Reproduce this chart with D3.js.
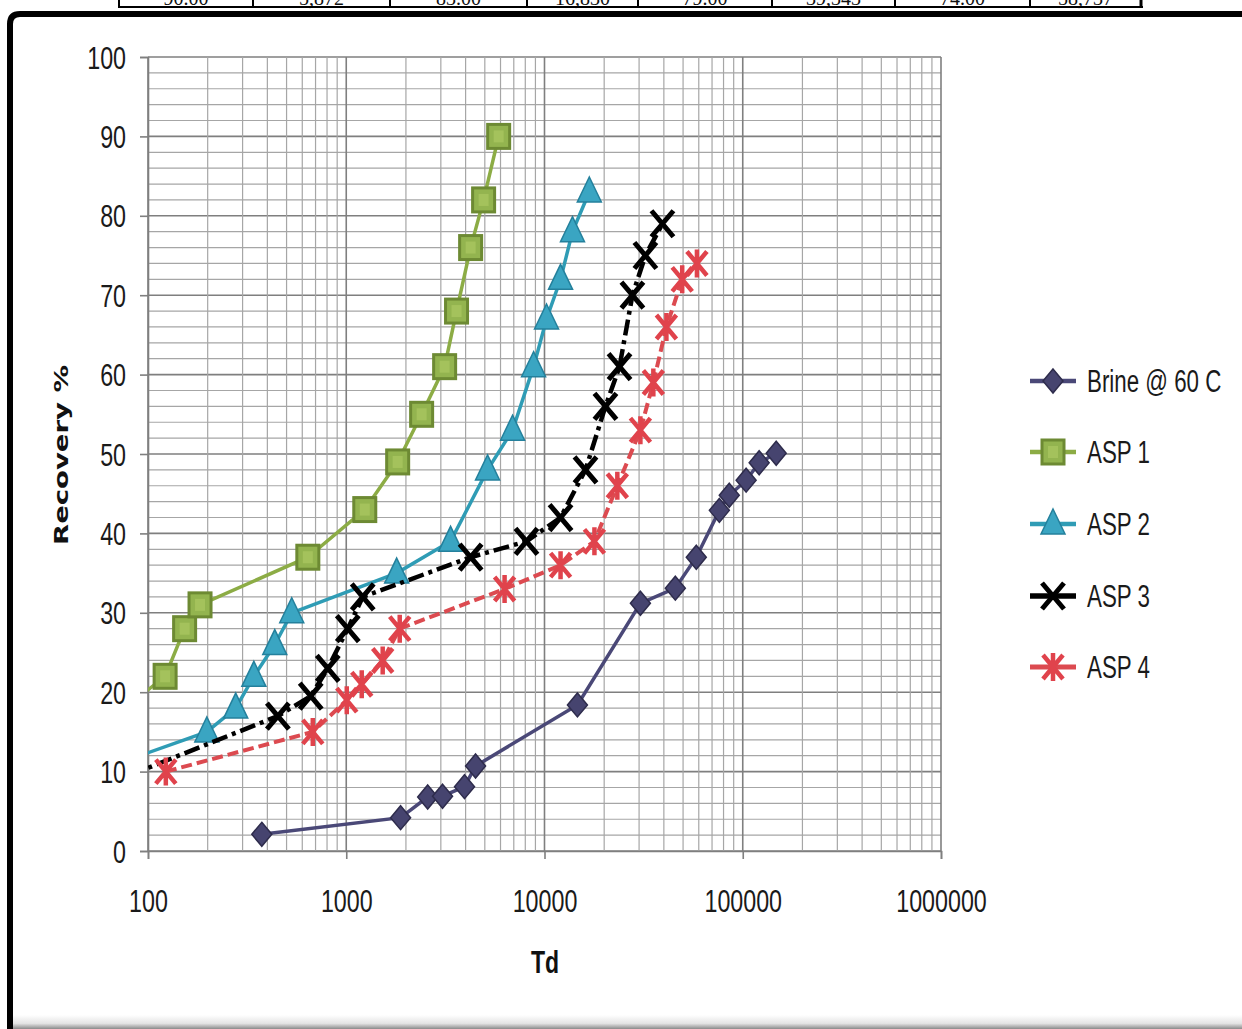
<!DOCTYPE html>
<html>
<head>
<meta charset="utf-8">
<script src="https://cdn.jsdelivr.net/npm/d3@7"></script>
<style>
  body { margin: 0; background: #fff; }
  svg { display: block; }
</style>
</head>
<body>
<div id="chart"></div>
<script>
// table row cut off at the top of the page
var tableCells = ["90.00", "5,872", "83.00", "16,830", "79.00", "39,343", "74.00", "58,737"];

// series (Td, Recovery %)
var seriesNames = ["Brine @ 60 C", "ASP 1", "ASP 2", "ASP 3", "ASP 4"];

var brineTd  = [375, 1880, 2575, 3060, 3950, 4490, 14660, 30460, 45700, 58300, 76200, 85500, 104000, 121000, 147500];
var brineRec = [2.1, 4.2, 6.8, 6.9, 8.1, 10.7, 18.4, 31.2, 33.1, 37.0, 42.9, 44.8, 46.7, 48.9, 50.1];

var asp1Td  = [86, 122, 153, 183, 640, 1240, 1817, 2400, 3135, 3600, 4240, 4930, 5872];
var asp1Rec = [19, 22, 28, 31, 37, 43, 49, 55, 61, 68, 76, 82, 90];

var asp2Td  = [70, 198, 277, 342, 436, 531, 1796, 3360, 5160, 6900, 8810, 10240, 12050, 13840, 16830];
var asp2Rec = [11, 15, 18, 22, 26, 30, 35, 39, 48, 53, 61, 67, 72, 78, 83];

var asp3Td  = [80, 452, 662, 807, 1018, 1211, 4240, 8110, 12050, 16100, 20300, 23900, 27760, 32280, 39343];
var asp3Rec = [9.5, 17, 19.5, 23, 28, 32, 37, 39, 42, 48, 56, 61, 70, 75, 79];

var asp4Td  = [123, 678, 1006, 1197, 1527, 1861, 6290, 12050, 17860, 23300, 30460, 35400, 41200, 49500, 58737];
var asp4Rec = [10, 15, 19, 21, 24, 28, 33, 36, 39, 46, 53, 59, 66, 72, 74];

var xTicks = [100, 1000, 10000, 100000, 1000000];
var yTicks = [0, 10, 20, 30, 40, 50, 60, 70, 80, 90, 100];

var canvas_width = 1242;
var canvas_height = 1029;
var sans = "'Liberation Sans', Arial, sans-serif";

// the picture uses a tall narrow face; squeeze the glyphs sideways
function squeeze(sel, f) {
  sel.each(function() {
    var w = this.getComputedTextLength();
    d3.select(this)
      .attr("textLength", w * f)
      .attr("lengthAdjust", "spacingAndGlyphs");
  });
}

var svg = d3.select("#chart")
  .append("svg")
  .attr("width", canvas_width)
  .attr("height", canvas_height);

svg.append("rect")
  .attr("width", canvas_width)
  .attr("height", canvas_height)
  .attr("fill", "#fff");

// ---- the table remnant at the top
var colEdges = [119, 253, 390, 527, 638, 772, 895, 1030, 1141];
tableCells.forEach(function(t, i) {
  svg.append("text")
    .attr("x", (colEdges[i] + colEdges[i + 1]) / 2)
    .attr("y", 5)
    .attr("text-anchor", "middle")
    .attr("font-family", "'Liberation Serif', serif")
    .attr("font-size", "20px")
    .attr("fill", "#111")
    .text(t);
});
svg.append("line")
  .attr("x1", 118).attr("x2", 1143)
  .attr("y1", 7).attr("y2", 7)
  .attr("stroke", "#000").attr("stroke-width", 2);
colEdges.forEach(function(cx, i) {
  svg.append("line")
    .attr("x1", cx).attr("x2", cx)
    .attr("y1", 0).attr("y2", 8)
    .attr("stroke", "#000")
    .attr("stroke-width", (i == colEdges.length - 1) ? 3 : 2);
});

// ---- chart frame
var defs = svg.append("defs");
var grad = defs.append("linearGradient")
  .attr("id", "bottomShade")
  .attr("x1", 0).attr("y1", 0).attr("x2", 0).attr("y2", 1);
grad.append("stop").attr("offset", "0%").attr("stop-color", "#fff");
grad.append("stop").attr("offset", "60%").attr("stop-color", "#e4e4e4");
grad.append("stop").attr("offset", "100%").attr("stop-color", "#8a8a8a");

svg.append("rect")
  .attr("x", 12).attr("y", 1015)
  .attr("width", canvas_width - 12).attr("height", 14)
  .attr("fill", "url(#bottomShade)");

svg.append("path")
  .attr("d", "M10,1029 V24 Q10,14 20,14 H1242")
  .attr("fill", "none")
  .attr("stroke", "#000")
  .attr("stroke-width", 6);

// ---- scales
var plot = { left: 148, right: 941, top: 57, bottom: 851 };

var x = d3.scaleLog()
  .domain([100, 1000000])
  .range([plot.left, plot.right]);

var y = d3.scaleLinear()
  .domain([0, 100])
  .range([plot.bottom, plot.top]);

// ---- gridlines
var minorX = [];
for (var dec = 100; dec < 1000000; dec *= 10) {
  for (var k = 2; k <= 9; k++) minorX.push(k * dec);
}
var minorY = d3.range(0, 101, 2);

var grid = svg.append("g");
grid.selectAll(".hgrid")
  .data(minorY)
  .enter().append("line")
  .attr("x1", plot.left).attr("x2", plot.right)
  .attr("y1", function(d) { return y(d); })
  .attr("y2", function(d) { return y(d); })
  .attr("stroke", function(d) { return d % 10 == 0 ? "#7f7f7f" : "#a6a6a6"; })
  .attr("stroke-width", function(d) { return d % 10 == 0 ? 1.6 : 1.2; });

grid.selectAll(".vgrid")
  .data(minorX.concat(xTicks))
  .enter().append("line")
  .attr("x1", function(d) { return x(d); })
  .attr("x2", function(d) { return x(d); })
  .attr("y1", plot.top).attr("y2", plot.bottom)
  .attr("stroke", function(d) { return xTicks.indexOf(d) >= 0 ? "#7f7f7f" : "#a6a6a6"; })
  .attr("stroke-width", function(d) { return xTicks.indexOf(d) >= 0 ? 1.6 : 1.2; });

// ---- axes
var yAxis = svg.append("g")
  .attr("transform", "translate(" + plot.left + ",0)")
  .call(d3.axisLeft(y).tickValues(yTicks).tickSize(8).tickPadding(14).tickFormat(d3.format("d")));

var xAxis = svg.append("g")
  .attr("transform", "translate(0," + plot.bottom + ")")
  .call(d3.axisBottom(x).tickValues(xTicks).tickSize(8).tickPadding(31).tickFormat(d3.format("d")));

[yAxis, xAxis].forEach(function(a) {
  a.select(".domain").attr("stroke", "#7f7f7f").attr("stroke-width", 1.6);
  a.selectAll(".tick line").attr("stroke", "#7f7f7f").attr("stroke-width", 1.6);
  a.selectAll(".tick text")
    .attr("font-family", sans)
    .attr("font-size", "31px")
    .attr("fill", "#1a1a1a")
    .call(squeeze, 0.75);
});
yAxis.selectAll(".tick text").attr("dy", "0.36em");

svg.append("text")
  .attr("transform", "translate(68,455) rotate(-90)")
  .attr("text-anchor", "middle")
  .attr("font-family", "'DejaVu Sans', sans-serif")
  .attr("font-weight", "bold")
  .attr("font-size", "19px")
  .attr("textLength", 180)
  .attr("lengthAdjust", "spacingAndGlyphs")
  .attr("fill", "#111")
  .text("Recovery %");

svg.append("text")
  .attr("x", 545)
  .attr("y", 973)
  .attr("text-anchor", "middle")
  .attr("font-family", sans)
  .attr("font-weight", "bold")
  .attr("font-size", "32px")
  .attr("fill", "#111")
  .text("Td")
  .call(squeeze, 0.72);

// ---- marker shapes
function markerDiamond(g, c) {
  g.append("path").attr("d", "M0,-12 L10,0 L0,12 L-10,0 Z")
    .attr("fill", c.fill).attr("stroke", c.stroke).attr("stroke-width", 1.5);
}
function markerSquare(g, c) {
  g.append("rect").attr("x", -11).attr("y", -12).attr("width", 22).attr("height", 24)
    .attr("fill", c.fill).attr("stroke", c.stroke).attr("stroke-width", 3);
  g.append("rect").attr("x", -5).attr("y", -6).attr("width", 10).attr("height", 12)
    .attr("fill", "#a9c65f").attr("opacity", 0.8);
}
function markerTriangle(g, c) {
  g.append("path").attr("d", "M0,-15 L12,10 L-12,10 Z")
    .attr("fill", c.fill).attr("stroke", c.stroke).attr("stroke-width", 1.5);
}
function markerX(g, c) {
  g.append("path").attr("d", "M-11,-13 L11,13 M11,-13 L-11,13")
    .attr("fill", "none").attr("stroke", c.stroke).attr("stroke-width", 5);
}
function markerStar(g, c) {
  g.append("path").attr("d", "M-10,-12 L10,12 M10,-12 L-10,12 M0,-14 V14")
    .attr("fill", "none").attr("stroke", c.stroke).attr("stroke-width", 4.5);
}

var series = [
  { name: seriesNames[0], td: brineTd, rec: brineRec, line: "#4a4877", width: 3.5, dash: null,
    marker: markerDiamond, fill: "#46446f", stroke: "#2e2c4c" },
  { name: seriesNames[1], td: asp1Td, rec: asp1Rec, line: "#8cac45", width: 3.5, dash: null,
    marker: markerSquare, fill: "#93b44f", stroke: "#6d8a33" },
  { name: seriesNames[2], td: asp2Td, rec: asp2Rec, line: "#2f9cb5", width: 3.5, dash: null,
    marker: markerTriangle, fill: "#3aa5c2", stroke: "#24809c" },
  { name: seriesNames[3], td: asp3Td, rec: asp3Rec, line: "#000", width: 4.5, dash: "16,5,4,5",
    marker: markerX, fill: "none", stroke: "#000" },
  { name: seriesNames[4], td: asp4Td, rec: asp4Rec, line: "#dc4a50", width: 4, dash: "11,5",
    marker: markerStar, fill: "none", stroke: "#e0434c" }
];

defs.append("clipPath").attr("id", "plotClip")
  .append("rect")
  .attr("x", plot.left).attr("y", plot.top - 20)
  .attr("width", plot.right - plot.left + 20)
  .attr("height", plot.bottom - plot.top + 40);

var lineGen = d3.line()
  .x(function(d) { return x(d[0]); })
  .y(function(d) { return y(d[1]); });

var plotG = svg.append("g").attr("clip-path", "url(#plotClip)");

series.forEach(function(s) {
  var pts = s.td.map(function(t, i) { return [t, s.rec[i]]; });
  plotG.append("path")
    .datum(pts)
    .attr("d", lineGen)
    .attr("fill", "none")
    .attr("stroke", s.line)
    .attr("stroke-width", s.width)
    .attr("stroke-dasharray", s.dash);
  pts.forEach(function(p) {
    if (p[0] < 100) return;
    var g = plotG.append("g")
      .attr("transform", "translate(" + x(p[0]) + "," + y(p[1]) + ")");
    s.marker(g, s);
  });
});

// ---- legend
var legendRows = [381, 452, 524, 596, 667];
series.forEach(function(s, i) {
  var g = svg.append("g").attr("transform", "translate(1030," + legendRows[i] + ")");
  g.append("line")
    .attr("x1", 0).attr("x2", 46)
    .attr("stroke", s.line)
    .attr("stroke-width", s.width + 1);
  var m = g.append("g").attr("transform", "translate(23,0)");
  s.marker(m, s);
  g.append("text")
    .attr("x", 57)
    .attr("dy", "0.36em")
    .attr("font-family", sans)
    .attr("font-size", "31px")
    .attr("fill", "#1a1a1a")
    .text(s.name)
    .call(squeeze, 0.72);
});
</script>
</body>
</html>
